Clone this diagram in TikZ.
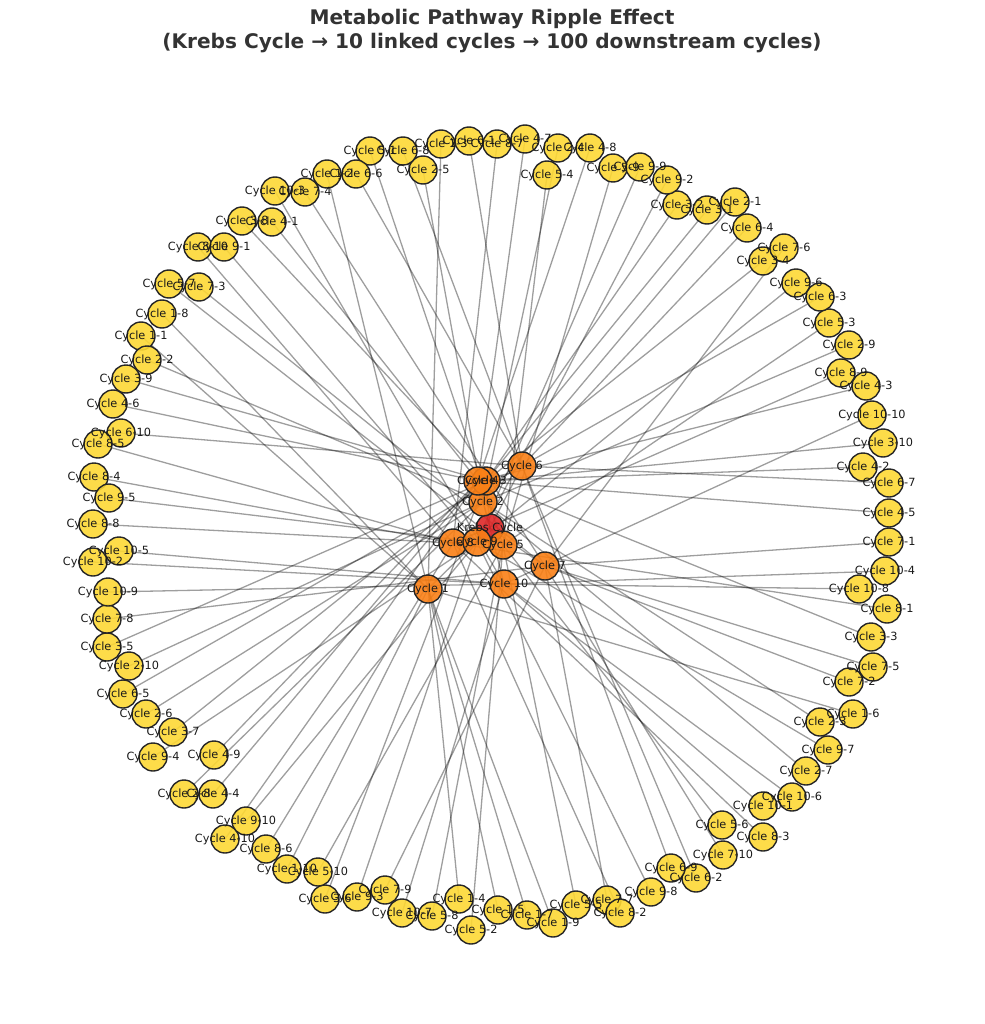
\documentclass[tikz,border=0pt]{standalone}
\usepackage{fontspec}
\setmainfont{DejaVu Sans}
\definecolor{leafyellow}{RGB}{253,216,53}
\definecolor{huborange}{RGB}{250,128,22}
\definecolor{rootred}{RGB}{222,40,40}
\definecolor{titlegray}{RGB}{51,51,51}
\pgfdeclarelayer{edges}
\pgfsetlayers{edges,main}

% leaf cycles: name/x/y
\def\leaflist{1-1/141/336, 1-2/327/174, 1-3/441/144, 1-4/459/899, 1-5/498/910,
  1-6/853/714, 1-7/527/915, 1-8/162/314, 1-9/553/923, 1-10/287/869,
  2-1/735/202, 2-2/147/360, 2-3/820/722, 2-4/558/148, 2-5/423/170,
  2-6/146/714, 2-7/806/771, 2-8/184/794, 2-9/849/345, 2-10/129/666,
  3-1/707/210, 3-2/677/205, 3-3/871/637, 3-4/763/261, 3-5/107/647,
  3-6/325/899, 3-7/173/732, 3-8/242/221, 3-9/126/379, 3-10/883/443,
  4-1/272/222, 4-2/863/467, 4-3/866/386, 4-4/213/794, 4-5/889/513,
  4-6/113/404, 4-7/525/139, 4-8/590/148, 4-9/214/755, 4-10/225/839,
  5-1/370/151, 5-2/471/930, 5-3/829/323, 5-4/547/175, 5-5/576/905,
  5-6/722/825, 5-7/169/284, 5-8/432/916, 5-9/613/168, 5-10/318/872,
  6-1/469/141, 6-2/696/878, 6-3/820/297, 6-4/747/228, 6-5/123/694,
  6-6/356/174, 6-7/889/483, 6-8/403/151, 6-9/671/868, 6-10/121/433,
  7-1/889/542, 7-2/849/682, 7-3/199/287, 7-4/305/192, 7-5/873/667,
  7-6/784/248, 7-7/607/900, 7-8/107/619, 7-9/385/890, 7-10/723/855,
  8-1/887/609, 8-2/620/913, 8-3/763/837, 8-4/94/477, 8-5/98/444,
  8-6/266/849, 8-7/497/144, 8-8/93/524, 8-9/841/373, 8-10/198/247,
  9-1/224/247, 9-2/667/180, 9-3/357/897, 9-4/153/757, 9-5/109/498,
  9-6/796/283, 9-7/828/750, 9-8/651/892, 9-9/640/167, 9-10/246/821,
  10-1/763/806, 10-2/93/562, 10-3/275/191, 10-4/885/571, 10-5/119/551,
  10-6/792/797, 10-7/402/913, 10-8/859/589, 10-9/108/592, 10-10/872/415}

% linked cycles: number/x/y
\def\hublist{1/428/589, 2/483/502, 3/486/481, 4/478/481, 5/503/545,
  6/522/466, 7/545/566, 8/453/543, 9/477/542, 10/504/584}

\begin{document}
\begin{tikzpicture}[x=1pt, y=-1pt,
    leaf/.style={circle, draw=black!85, line width=1.4pt, fill=leafyellow, fill opacity=0.9,
      minimum size=28pt, inner sep=0pt},
    hub/.style={leaf, fill=huborange},
    root/.style={leaf, fill=rootred},
    tag/.style={font=\fontsize{11.3}{11.3}\selectfont, inner sep=0pt, text=black!90},
    link/.style={black, line width=1.3pt, opacity=0.38}]
        \useasboundingbox (0,0) rectangle (984,1024);

        \node[font=\bfseries\fontsize{20.1}{23.5}\selectfont, text=titlegray, align=center] (title) at (492,31)
            {Metabolic Pathway Ripple Effect\\(Krebs Cycle → 10 linked cycles → 100 downstream cycles)};

        % circles
        \foreach \n/\x/\y in \leaflist
            \node[leaf] (c\n) at (\x,\y) {};
        \node[root] (k) at (490,528) {};
        \foreach \i/\x/\y in \hublist
            \node[hub] (c\i) at (\x,\y) {};

        % links behind the circles
        \begin{pgfonlayer}{edges}
            \foreach \i in {1,...,10} {
                \draw[link] (k.center) -- (c\i.center);
                \foreach \j in {1,...,10}
                    \draw[link] (c\i.center) -- (c\i-\j.center);
            }
        \end{pgfonlayer}

        % labels on top
        \foreach \n/\x/\y in \leaflist
            \node[tag] at (c\n) {Cycle \n};
        \node[tag] at (k) {Krebs Cycle};
        \foreach \i/\x/\y in \hublist
            \node[tag] at (c\i) {Cycle \i};
    \end{tikzpicture}
\end{document}
